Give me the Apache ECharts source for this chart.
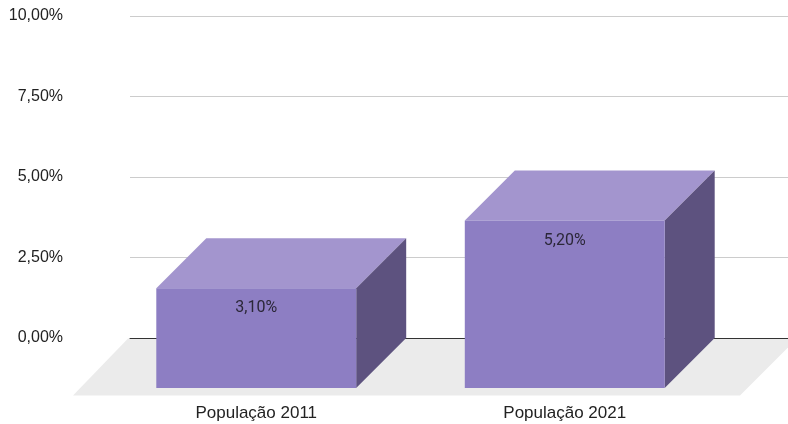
<!DOCTYPE html>
<html>
<head>
<meta charset="utf-8">
<script src="https://cdn.jsdelivr.net/npm/echarts@6/dist/echarts.min.js"></script>
<style>html,body{margin:0;padding:0;background:#fff}#c{width:788px;height:424px}</style>
</head>
<body>
<div id="c"></div>
<script>
const categories = ['População 2011', 'População 2021'];
const values = [3.1, 5.2];
const yTicks = [0, 2.5, 5, 7.5, 10];

const fmt = v => v.toFixed(2).replace('.', ',') + '%';
const DEPTH = 50;
const FRONT = '#8d7ec3', TOP = '#a395ce', SIDE = '#5d527f';

const chart = echarts.init(document.getElementById('c'), null, {renderer: 'canvas'});
chart.setOption({
  animation: false,
  backgroundColor: '#fff',
  graphic: [{
    type: 'polygon', z: -10,
    shape: {points: [[128, 338.5], [797, 338.5], [740, 395.5], [73, 395.5]]},
    style: {fill: '#ebebeb'}
  }],
  grid: [
    {left: 130, right: 0, top: 16, bottom: 86},
    {left: 102, right: 69, top: 66, bottom: 36}
  ],
  xAxis: [
    {gridIndex: 0, type: 'category', data: categories,
     axisLine: {show: true, lineStyle: {color: '#333', width: 1}},
     axisTick: {show: false}, axisLabel: {show: false}, splitLine: {show: false}},
    {gridIndex: 1, type: 'category', data: categories,
     axisLine: {show: false}, axisTick: {show: false},
     axisLabel: {fontSize: 17, color: '#222', fontFamily: 'Liberation Sans, Arial', margin: 17}}
  ],
  yAxis: [
    {gridIndex: 0, type: 'value', min: yTicks[0], max: yTicks[yTicks.length - 1], interval: 2.5,
     axisLine: {show: false}, axisTick: {show: false},
     axisLabel: {fontSize: 16, color: '#222', fontFamily: 'Liberation Sans, Arial', margin: 67, formatter: v => fmt(v)},
     splitLine: {lineStyle: {color: '#cccccc', width: 1}}},
    {gridIndex: 1, type: 'value', min: yTicks[0], max: yTicks[yTicks.length - 1], interval: 2.5, show: false}
  ],
  series: [{
    type: 'custom',
    xAxisIndex: 1, yAxisIndex: 1,
    data: categories.map((c, i) => [i, values[i]]),
    renderItem: function (params, api) {
      const i = api.value(0), v = api.value(1);
      const top = api.coord([i, v]);
      const bot = api.coord([i, 0]);
      const half = api.size([1, 0])[0] * 0.648 / 2;
      const x0 = top[0] - half, x1 = top[0] + half;
      const yt = top[1], yb = bot[1];
      const d = DEPTH;
      return {
        type: 'group',
        children: [
          {type: 'polygon', shape: {points: [[x0, yt], [x1, yt], [x1 + d, yt - d], [x0 + d, yt - d]]}, style: {fill: TOP}},
          {type: 'polygon', shape: {points: [[x1, yt], [x1 + d, yt - d], [x1 + d, yb - d], [x1, yb]]}, style: {fill: SIDE}},
          {type: 'rect', shape: {x: x0, y: yt, width: x1 - x0, height: yb - yt}, style: {fill: FRONT}},
          {type: 'text', style: {text: fmt(v), x: top[0], y: yt + 20, align: 'center', verticalAlign: 'middle',
            fontSize: 16, fontFamily: 'Roboto', fill: '#2b2738'}}
        ]
      };
    }
  }]
});
</script>
</body>
</html>
